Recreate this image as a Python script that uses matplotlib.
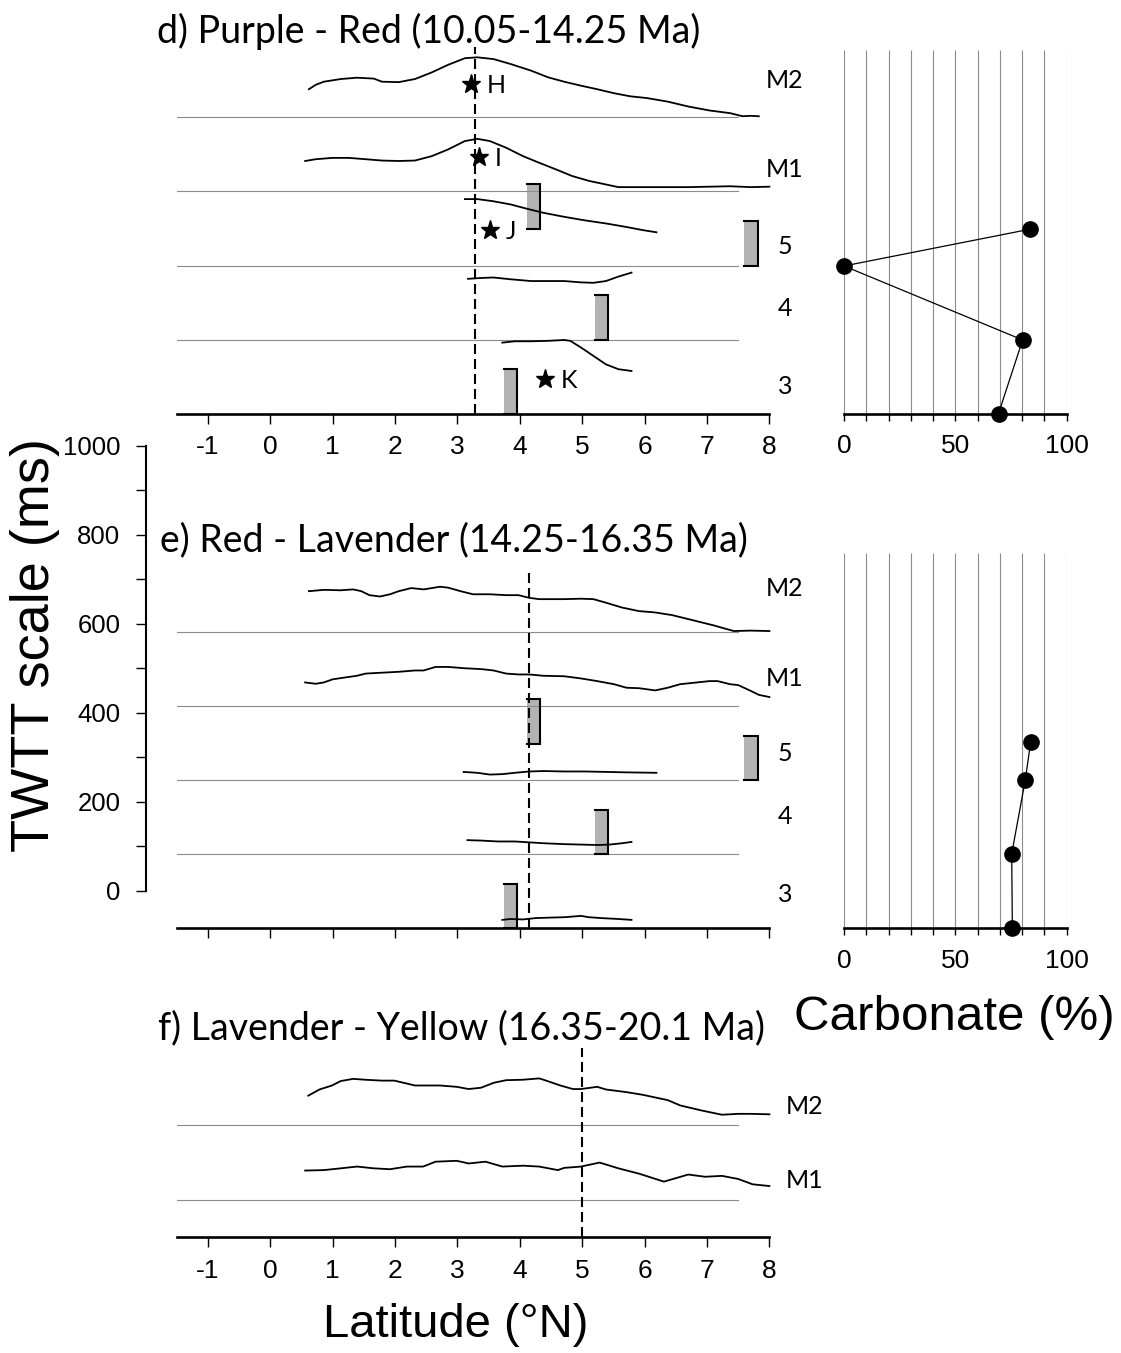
import matplotlib.pyplot as plt
from matplotlib.patches import Rectangle

W, H = 1121, 1353
PX_PER_MS = 0.443           # vertical scale shared by every panel
LAT_X0, LAT_X1 = 176.6, 769.4
CARB_X0, CARB_X1 = 844.0, 1066.7
TEXT_FONT = 'Lato'

plt.rcParams['font.family'] = ['Liberation Sans', 'DejaVu Sans']
plt.rcParams['axes.unicode_minus'] = False

# ---- d) Purple - Red : thickness (ms) above each row baseline ----
d_offsets = [0, 167, 334, 502, 669]          # rows 3, 4, 5, M1, M2
d_m2_lat = [0.62, 0.73, 0.86, 1.13, 1.39, 1.66, 1.79, 2.06, 2.32, 2.59, 2.85, 3.12, 3.32, 3.58, 3.85,
            4.18, 4.45, 4.71, 4.98, 5.24, 5.51, 5.77, 6.04, 6.37, 6.70, 7.04, 7.37, 7.57, 7.70, 7.83]
d_m2_ms = [63, 73, 80, 86, 89, 87, 80, 79, 86, 101, 118, 133, 135, 131, 120,
           105, 90, 80, 71, 63, 54, 47, 43, 35, 24, 15, 9, 2, 3, 2]
d_m1_lat = [0.56, 0.73, 1.00, 1.26, 1.53, 1.79, 2.06, 2.32, 2.59, 2.85, 3.12, 3.32, 3.52, 3.78, 4.05,
            4.31, 4.58, 4.84, 5.11, 5.38, 5.58, 6.04, 6.70, 7.37, 7.70, 8.00]
d_m1_ms = [68, 72, 75, 75, 72, 69, 68, 69, 79, 94, 113, 118, 113, 98, 79,
           64, 49, 34, 23, 15, 9, 9, 9, 11, 9, 10]
d_r5_lat = [3.12, 3.32, 3.58, 3.85, 4.12, 4.38, 4.71, 5.04, 5.38, 5.71, 5.97, 6.19]
d_r5_ms = [150, 150, 145, 138, 128, 119, 110, 102, 95, 87, 80, 75]
d_r4_lat = [3.17, 3.39, 3.58, 3.85, 4.18, 4.45, 4.71, 4.98, 5.18, 5.38, 5.58, 5.79]
d_r4_ms = [137, 139, 140, 136, 132, 132, 132, 129, 128, 132, 142, 151]
d_r3_lat = [3.72, 3.92, 4.18, 4.45, 4.71, 4.81, 4.98, 5.18, 5.38, 5.58, 5.79]
d_r3_ms = [160, 163, 163, 164, 166, 164, 149, 130, 111, 100, 96]
d_dash_lat = 3.28
d_star_lat = [3.22, 3.35, 3.53, 4.41]
d_star_ms = [744, 579, 414, 78]
d_star_names = ['H', 'I', 'J', 'K']
d_carb_pct = [83.5, 0.0, 80.2, 69.4]
d_carb_ms = [416, 333, 166, 0]

# ---- e) Red - Lavender ----
e_offsets = [0, 167, 334, 502, 669]
e_m2_lat = [0.62, 0.86, 1.13, 1.33, 1.46, 1.59, 1.76, 1.92, 2.06, 2.26, 2.46, 2.72, 2.85, 3.05, 3.25,
            3.52, 3.78, 3.98, 4.15, 4.31, 4.71, 4.98, 5.18, 5.38, 5.64, 5.91, 6.17, 6.44, 6.70, 7.10,
            7.43, 7.70, 8.00]
e_m2_ms = [92, 95, 94, 96, 92, 83, 80, 85, 92, 99, 96, 102, 100, 92, 85,
           85, 83, 83, 77, 74, 74, 75, 74, 66, 55, 47, 44, 38, 29, 15,
           2, 3, 2]
e_m1_lat = [0.56, 0.73, 0.86, 1.00, 1.19, 1.39, 1.53, 1.79, 2.06, 2.32, 2.46, 2.65, 2.85, 3.12, 3.39,
            3.58, 3.78, 3.98, 4.15, 4.38, 4.71, 4.98, 5.24, 5.51, 5.71, 5.91, 6.17, 6.37, 6.57, 6.84,
            7.04, 7.17, 7.37, 7.50, 7.70, 7.83, 8.00]
e_m1_ms = [53, 50, 53, 60, 64, 68, 73, 75, 77, 80, 80, 88, 88, 85, 83,
           80, 73, 71, 71, 68, 67, 62, 56, 49, 41, 40, 35, 41, 49, 53,
           56, 56, 49, 47, 34, 25, 20]
e_r5_lat = [3.10, 3.32, 3.52, 3.72, 3.92, 4.15, 4.38, 4.71, 5.04, 5.38, 5.71, 6.19]
e_r5_ms = [19, 17, 13, 14, 17, 20, 21, 20, 20, 19, 18, 17]
e_r4_lat = [3.16, 3.39, 3.65, 3.92, 4.15, 4.38, 4.71, 4.98, 5.24, 5.44, 5.64, 5.79]
e_r4_ms = [32, 31, 29, 29, 27, 25, 23, 22, 21, 22, 25, 28]
e_r3_lat = [3.72, 3.85, 4.05, 4.25, 4.45, 4.71, 4.98, 5.11, 5.31, 5.58, 5.79]
e_r3_ms = [19, 21, 20, 23, 24, 25, 28, 25, 23, 21, 19]
e_dash_lat = 4.14
e_carb_pct = [83.8, 81.4, 75.3, 75.6]
e_carb_ms = [420, 335, 168, 0]

# drill-site bars: latitude, bottom and top (ms above axis)
site_lat = [4.22, 7.71, 5.31, 3.85]
site_bottom = [416, 334, 167, 0]
site_top = [518, 435, 268, 101]

# ---- f) Lavender - Yellow ----
f_offsets = [0, 84, 253]                      # rows M1, M2
f_m2_lat = [0.61, 0.79, 0.99, 1.13, 1.33, 1.52, 1.79, 1.99, 2.32, 2.72, 2.99, 3.18, 3.38, 3.58, 3.78,
            4.05, 4.31, 4.38, 4.65, 4.85, 4.98, 5.24, 5.38, 5.71, 5.97, 6.37, 6.57, 6.90, 7.24, 7.50,
            7.70, 8.00]
f_m2_ms = [66, 80, 89, 99, 104, 102, 100, 100, 89, 89, 86, 81, 84, 95, 101,
           102, 105, 102, 89, 81, 81, 86, 80, 74, 68, 56, 44, 33, 23, 25,
           25, 24]
f_m1_lat = [0.56, 0.86, 1.13, 1.39, 1.66, 1.92, 2.19, 2.45, 2.65, 2.99, 3.18, 3.45, 3.72, 4.05, 4.31,
            4.61, 4.71, 4.98, 5.28, 5.58, 5.91, 6.31, 6.70, 6.97, 7.24, 7.50, 7.73, 8.00]
f_m1_ms = [66, 67, 71, 75, 71, 69, 75, 75, 86, 88, 82, 86, 75, 77, 75,
           67, 72, 75, 84, 71, 59, 41, 57, 52, 54, 47, 35, 31]
f_dash_lat = 5.0

fig = plt.figure(figsize=(W / 100, H / 100), dpi=100)


def px_axes(x0, x1, y_bottom, ms_top):
    h = ms_top * PX_PER_MS
    ax = fig.add_axes([x0 / W, 1 - y_bottom / H, (x1 - x0) / W, h / H])
    ax.set_ylim(0, ms_top)
    ax.patch.set_visible(False)
    for side in ['top', 'left', 'right']:
        ax.spines[side].set_visible(False)
    ax.spines['bottom'].set_linewidth(1.9)
    ax.set_yticks([])
    return ax


def lat_panel(y_bottom, ms_top, labels=True):
    ax = px_axes(LAT_X0, LAT_X1, y_bottom, ms_top)
    ax.set_xlim(-1.5, 8)
    ax.set_xticks(range(-1, 9))
    ax.tick_params(axis='x', length=7.5, width=1, pad=8, labelsize=19, labelbottom=labels)
    return ax


def carb_panel(y_bottom, ms_top, grid_top, pct, ms):
    ax = px_axes(CARB_X0, CARB_X1, y_bottom, ms_top)
    ax.set_xlim(0, 100)
    ax.set_xticks([0, 50, 100])
    ax.set_xticks(range(0, 101, 10), minor=True)
    ax.tick_params(axis='x', which='both', length=5, width=1, pad=10, labelsize=19)
    ax.vlines(range(0, 101, 10), 0, grid_top, color='#8c8c8c', lw=0.8)
    ax.plot(pct, ms, color='black', lw=0.9, marker='o', ms=11, clip_on=False, zorder=3)
    return ax


def profile(ax, lat, ms, offset):
    ax.plot(lat, [offset + v for v in ms], color='black', lw=1.3, clip_on=False)


def baselines(ax, offsets):
    for off in offsets[1:]:
        ax.plot([-1.5, 7.5], [off, off], color='#8c8c8c', lw=0.8)


def sites(ax):
    for lat, bot, top in zip(site_lat, site_bottom, site_top):
        x0, x1 = lat - 0.11, lat + 0.11
        ax.add_patch(Rectangle((x0, bot), x1 - x0, top - bot, facecolor='#b3b3b3', edgecolor='none'))
        ax.plot([x0, x1, x1, x0], [top, top, bot, bot], color='black', lw=1.5, solid_joinstyle='miter')


def dashed(ax, lat, top):
    ax.plot([lat, lat], [0, top], color='black', lw=1.5, dashes=(4.8, 2.4))


def row_labels(ax, names, ys, x=8.25):
    for name, y in zip(names, ys):
        ax.text(x, y, name, fontsize=18, family=TEXT_FONT, ha='center', va='center')


# d) Purple - Red
ax_d = lat_panel(413.5, 870)
baselines(ax_d, d_offsets)
profile(ax_d, d_m2_lat, d_m2_ms, d_offsets[4])
profile(ax_d, d_m1_lat, d_m1_ms, d_offsets[3])
profile(ax_d, d_r5_lat, d_r5_ms, d_offsets[2])
profile(ax_d, d_r4_lat, d_r4_ms, d_offsets[1])
profile(ax_d, d_r3_lat, d_r3_ms, d_offsets[0])
sites(ax_d)
dashed(ax_d, d_dash_lat, 827)
ax_d.plot(d_star_lat, d_star_ms, ls='none', marker='*', ms=14, color='black')
for lat, y, name in zip(d_star_lat, d_star_ms, d_star_names):
    ax_d.annotate(name, (lat, y), xytext=(11, -1), textcoords='offset points',
                  fontsize=18, family=TEXT_FONT, va='center')
row_labels(ax_d, ['M2', 'M1', '5', '4', '3'], [751, 550, 378, 238, 60])
carb_panel(413.5, 870, 820, d_carb_pct, d_carb_ms)

# e) Red - Lavender
ax_e = lat_panel(928.3, 870, labels=False)
baselines(ax_e, e_offsets)
profile(ax_e, e_m2_lat, e_m2_ms, e_offsets[4])
profile(ax_e, e_m1_lat, e_m1_ms, e_offsets[3])
profile(ax_e, e_r5_lat, e_r5_ms, e_offsets[2])
profile(ax_e, e_r4_lat, e_r4_ms, e_offsets[1])
profile(ax_e, e_r3_lat, e_r3_ms, e_offsets[0])
sites(ax_e)
dashed(ax_e, e_dash_lat, 813)
row_labels(ax_e, ['M2', 'M1', '5', '4', '3'], [766, 565, 395, 253, 77])
carb_panel(928.3, 870, 847, e_carb_pct, e_carb_ms)

# f) Lavender - Yellow
ax_f = lat_panel(1237, 450)
baselines(ax_f, f_offsets)
profile(ax_f, f_m2_lat, f_m2_ms, f_offsets[2])
profile(ax_f, f_m1_lat, f_m1_ms, f_offsets[1])
dashed(ax_f, f_dash_lat, 427)
row_labels(ax_f, ['M2', 'M1'], [295, 128], x=8.56)

# TWTT scale bar
ax_s = fig.add_axes([146 / W, 1 - 891 / H, 1 / W, 445.3 / H])
ax_s.set_ylim(0, 1000)
ax_s.patch.set_visible(False)
for side in ['top', 'bottom', 'right']:
    ax_s.spines[side].set_visible(False)
ax_s.spines['left'].set_linewidth(1.5)
ax_s.set_xticks([])
ax_s.set_yticks(range(0, 1001, 200))
ax_s.set_yticks(range(0, 1001, 100), minor=True)
ax_s.tick_params(axis='y', which='both', length=7.5, width=1, pad=11, labelsize=18.5)

fig.text(157 / W, 1 - 31 / H, 'd) Purple - Red (10.05-14.25 Ma)', fontsize=27, family=TEXT_FONT,
         ha='left', va='center')
fig.text(160 / W, 1 - 540 / H, 'e) Red - Lavender (14.25-16.35 Ma)', fontsize=27, family=TEXT_FONT,
         ha='left', va='center')
fig.text(158 / W, 1 - 1028 / H, 'f) Lavender - Yellow (16.35-20.1 Ma)', fontsize=27, family=TEXT_FONT,
         ha='left', va='center')
fig.text(35 / W, 1 - 645 / H, 'TWTT scale (ms)', fontsize=39, rotation=90, ha='center', va='center')
fig.text(954 / W, 1 - 1017 / H, 'Carbonate (%)', fontsize=35.5, ha='center', va='center')
fig.text(456 / W, 1 - 1325 / H, 'Latitude (\u00b0N)', fontsize=34, ha='center', va='center')

fig.savefig('out.png', dpi=100)
